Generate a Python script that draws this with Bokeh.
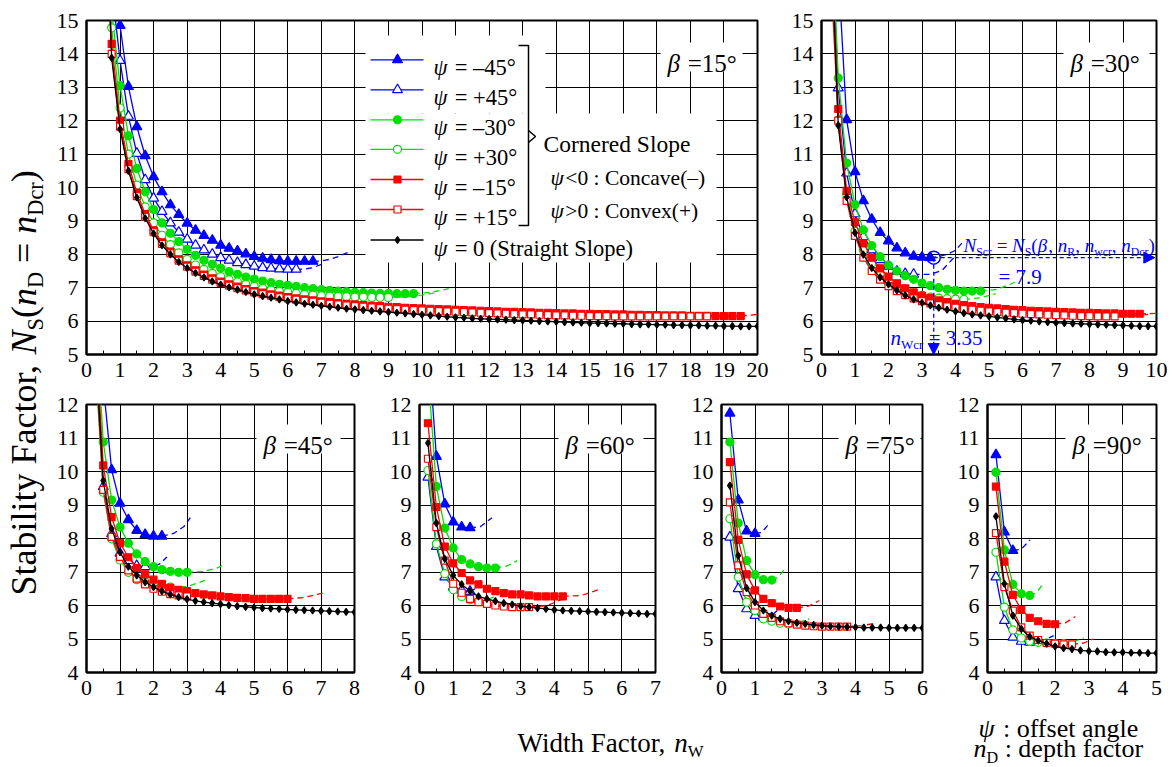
import math
from bokeh.plotting import figure
from bokeh.models import Range1d, Label, BoxAnnotation, Arrow, NormalHead, FixedTicker
from bokeh.layouts import row, column
from bokeh.embed import file_html
from bokeh.resources import INLINE

STEP = 0.25  # spacing of the computed points along n_W

# ---------------- data : (first n_W, N_S values every 0.25) ; dashed extensions (x, y)
# beta = 15
b15_n45 = (0.75, [17.5, 14.85, 13.02, 11.82, 10.95, 10.32, 9.87, 9.48, 9.19, 8.93, 8.72, 8.56, 8.42,
                  8.27, 8.18, 8.10, 8.01, 7.93, 7.88, 7.84, 7.81, 7.79, 7.79, 7.79, 7.79])
b15_n45_d = ([6.75, 7.0, 7.25, 7.5, 7.8], [7.79, 7.80, 7.85, 7.93, 8.06])
b15_p45 = (0.75, [16.0, 13.8, 12.13, 11.02, 10.23, 9.68, 9.28, 8.94, 8.66, 8.45, 8.27, 8.13, 8.00,
                  7.90, 7.82, 7.75, 7.69, 7.64, 7.60, 7.58, 7.56, 7.55, 7.55])
b15_p45_d = ([6.25, 6.5, 6.75, 7.05], [7.55, 7.56, 7.60, 7.72])
b15_n30 = (0.75, [15.3, 13.05, 11.55, 10.57, 9.87, 9.34, 8.94, 8.63, 8.38, 8.15, 7.97, 7.82, 7.70,
                  7.59, 7.48, 7.40, 7.32, 7.26, 7.20, 7.15, 7.10, 7.07, 7.04, 7.00, 6.97, 6.94,
                  6.92, 6.90, 6.88, 6.86, 6.85, 6.84, 6.83, 6.83, 6.82, 6.82, 6.82])
b15_n30_d = ([9.75, 10.25, 10.8], [6.82, 6.86, 6.97])
b15_p30 = (0.5, [20.0, 14.78, 12.38, 11.0, 10.07, 9.42, 8.94, 8.57, 8.29, 8.04, 7.85, 7.68, 7.55,
                 7.43, 7.33, 7.24, 7.17, 7.10, 7.04, 6.98, 6.93, 6.89, 6.86, 6.83, 6.80, 6.78,
                 6.76, 6.75, 6.74, 6.73, 6.72, 6.72, 6.71, 6.71, 6.71])
b15_p30_d = ([9.0, 9.5, 10.0, 10.35], [6.71, 6.73, 6.78, 6.84])
b15_n15 = (0.5, [20.0, 14.3, 12.0, 10.7, 9.85, 9.2, 8.72, 8.36, 8.08, 7.85, 7.67, 7.52, 7.39, 7.28,
                 7.18, 7.10, 7.03, 6.96, 6.90, 6.85, 6.80, 6.76, 6.72, 6.68, 6.65, 6.62, 6.59,
                 6.57, 6.54, 6.52, 6.50, 6.48, 6.46, 6.45, 6.43, 6.42, 6.40, 6.39, 6.38, 6.37,
                 6.36, 6.35, 6.34, 6.33, 6.32, 6.31, 6.30, 6.29, 6.28, 6.28, 6.27, 6.26, 6.25,
                 6.25, 6.24, 6.23, 6.23, 6.22, 6.22, 6.21, 6.21, 6.20, 6.20, 6.19, 6.19, 6.18,
                 6.18, 6.17, 6.17, 6.17, 6.16, 6.16, 6.16, 6.15, 6.15, 6.15, 6.15])
b15_n15_d = ([19.5, 20.0, 20.3], [6.15, 6.20, 6.25])
b15_p15 = (0.5, [20.0, 14.0, 11.82, 10.55, 9.74, 9.12, 8.66, 8.31, 8.03, 7.81, 7.63, 7.48, 7.35,
                 7.24, 7.14, 7.06, 6.99, 6.92, 6.86, 6.81, 6.76, 6.72, 6.68, 6.64, 6.61, 6.58,
                 6.55, 6.52, 6.50, 6.47, 6.45, 6.43, 6.41, 6.39, 6.37, 6.36, 6.34, 6.33, 6.32,
                 6.31, 6.30, 6.29, 6.28, 6.27, 6.26, 6.25, 6.24, 6.23, 6.22, 6.21, 6.20, 6.20,
                 6.19, 6.18, 6.17, 6.17, 6.16, 6.16, 6.15, 6.15, 6.15, 6.14, 6.14, 6.14, 6.14,
                 6.14, 6.14, 6.14, 6.14, 6.14, 6.14, 6.14, 6.14])
b15_p15_d = ([18.5, 19.0, 19.5], [6.14, 6.15, 6.17])
b15_zero = (0.5, [20.0, 13.88, 11.75, 10.50, 9.70, 9.08, 8.62, 8.27, 8.00, 7.77, 7.59, 7.44, 7.31,
                  7.19, 7.09, 7.01, 6.94, 6.87, 6.80, 6.75, 6.70, 6.65, 6.60, 6.56, 6.52, 6.49,
                  6.46, 6.43, 6.40, 6.37, 6.35, 6.33, 6.31, 6.29, 6.27, 6.25, 6.23, 6.21, 6.19,
                  6.17, 6.15, 6.13, 6.11, 6.10, 6.08, 6.07, 6.06, 6.05, 6.04, 6.03, 6.02, 6.01,
                  6.00, 5.99, 5.98, 5.97, 5.96, 5.95, 5.94, 5.94, 5.93, 5.92, 5.92, 5.91, 5.90,
                  5.90, 5.89, 5.89, 5.88, 5.88, 5.87, 5.87, 5.86, 5.86, 5.85, 5.85, 5.84, 5.84,
                  5.84])

# beta = 30
b30_n45 = (0.5, [16.5, 12.03, 10.47, 9.60, 9.05, 8.65, 8.40, 8.19, 8.04, 7.94, 7.91, 7.90])
b30_n45_d = ([3.25, 3.5, 3.75, 4.0, 4.25], [7.90, 7.93, 8.00, 8.12, 8.40])
b30_p45 = (0.25, [19.0, 12.98, 10.43, 9.21, 8.53, 8.13, 7.84, 7.64, 7.49, 7.42, 7.40])
b30_p45_d = ([2.75, 3.25, 3.6, 3.95], [7.40, 7.40, 7.52, 7.90])
b30_n30 = (0.25, [19.0, 13.28, 10.73, 9.49, 8.73, 8.26, 7.93, 7.68, 7.50, 7.36, 7.25, 7.14, 7.06,
                  7.00, 6.95, 6.92, 6.90, 6.90, 6.90])
b30_n30_d = ([4.75, 5.25, 5.8], [6.90, 6.95, 7.17])
b30_p30 = (0.25, [18.0, 12.02, 9.79, 8.69, 8.13, 7.72, 7.38, 7.15, 7.02, 6.92, 6.84, 6.77, 6.72,
                  6.69, 6.67, 6.66, 6.65])
b30_p30_d = ([4.25, 4.75, 5.2], [6.65, 6.70, 6.82])
b30_n15 = (0.25, [18.0, 12.35, 9.90, 8.96, 8.33, 7.90, 7.58, 7.33, 7.13, 6.98, 6.86, 6.76, 6.69,
                  6.62, 6.57, 6.52, 6.48, 6.45, 6.42, 6.40, 6.38, 6.36, 6.34, 6.33, 6.31, 6.30,
                  6.29, 6.28, 6.27, 6.26, 6.25, 6.25, 6.24, 6.23, 6.23, 6.22, 6.22, 6.22])
b30_n15_d = ([9.5, 9.75, 10.1], [6.22, 6.22, 6.24])
b30_p15 = (0.25, [17.0, 12.0, 9.60, 8.55, 7.90, 7.50, 7.24, 7.05, 6.90, 6.78, 6.68, 6.60, 6.53,
                  6.48, 6.44, 6.40, 6.36, 6.34, 6.31, 6.29, 6.27, 6.25, 6.24, 6.22, 6.21, 6.20,
                  6.19, 6.18, 6.17, 6.16, 6.15, 6.15, 6.14, 6.14, 6.14])
b30_p15_d = ([8.75, 9.25, 9.75], [6.14, 6.15, 6.20])
b30_zero = (0.25, [18.5, 11.86, 9.71, 8.64, 7.99, 7.59, 7.31, 7.10, 6.92, 6.77, 6.65, 6.55, 6.47,
                   6.40, 6.34, 6.29, 6.24, 6.20, 6.17, 6.14, 6.11, 6.08, 6.05, 6.03, 6.01, 5.99,
                   5.97, 5.95, 5.94, 5.93, 5.92, 5.91, 5.90, 5.89, 5.88, 5.87, 5.86, 5.85, 5.85,
                   5.84])
b30_crit_nw = 3.35
b30_crit_ns = 7.9

# beta = 45
b45_n45 = (0.5, [12.6, 10.05, 9.05, 8.56, 8.24, 8.12, 8.07, 8.07])
b45_n45_d = ([2.25, 2.6, 2.9, 3.1], [8.07, 8.15, 8.35, 8.62])
b45_p45 = (0.25, [14.0, 9.55, 8.14, 7.56, 7.34, 7.19, 7.16])
b45_p45_d = ([1.75, 2.0, 2.2, 2.4], [7.16, 7.15, 7.25, 7.45])
b45_n30 = (0.25, [15.0, 10.88, 9.15, 8.34, 7.86, 7.54, 7.31, 7.16, 7.07, 7.02, 6.99, 6.99])
b45_n30_d = ([3.0, 3.5, 3.9, 4.15], [6.99, 7.02, 7.12, 7.24])
b45_p30 = (0.25, [13.5, 9.38, 7.99, 7.36, 6.99, 6.77, 6.70, 6.63, 6.57, 6.55])
b45_p30_d = ([2.5, 3.0, 3.55], [6.55, 6.56, 6.75])
b45_n15 = (0.25, [14.5, 10.18, 8.64, 7.86, 7.44, 7.12, 6.93, 6.77, 6.65, 6.53, 6.47, 6.43, 6.37,
                  6.33, 6.30, 6.27, 6.25, 6.23, 6.22, 6.20, 6.20, 6.20, 6.20, 6.20])
b45_n15_d = ([6.0, 6.5, 7.05], [6.20, 6.24, 6.37])
b45_p15 = (0.25, [13.8, 9.45, 8.05, 7.45, 7.05, 6.80, 6.63, 6.50, 6.41, 6.34, 6.30, 6.27])
b45_p15_d = ([3.0, 3.5, 3.9], [6.27, 6.30, 6.40])
b45_zero = (0.25, [14.0, 9.73, 8.29, 7.59, 7.16, 6.90, 6.70, 6.55, 6.43, 6.33, 6.25, 6.19, 6.14,
                   6.10, 6.07, 6.04, 6.01, 5.98, 5.96, 5.94, 5.92, 5.91, 5.90, 5.88, 5.87, 5.86,
                   5.85, 5.84, 5.83, 5.82, 5.81, 5.80])

# beta = 60
b60_n45 = (0.25, [14.0, 10.45, 9.03, 8.49, 8.34, 8.32])
b60_n45_d = ([1.5, 1.8, 2.15], [8.32, 8.35, 8.62])
b60_p45 = (0.25, [9.83, 7.76, 6.85, 6.55, 6.46, 6.42])
b60_p45_d = ([1.5, 1.65, 1.85], [6.42, 6.50, 6.80])
b60_n30 = (0.25, [13.0, 9.55, 8.31, 7.72, 7.37, 7.24, 7.16, 7.12, 7.12])
b60_n30_d = ([2.25, 2.6, 2.9], [7.12, 7.18, 7.34])
b60_p30 = (0.25, [10.03, 7.84, 6.95, 6.47, 6.27, 6.17, 6.13])
b60_p30_d = ([1.75, 2.0, 2.3, 2.55], [6.13, 6.17, 6.30, 6.50])
b60_n15 = (0.25, [11.44, 8.94, 7.76, 7.26, 6.97, 6.75, 6.63, 6.50, 6.43, 6.37, 6.33, 6.33, 6.30,
                  6.27, 6.27, 6.27, 6.27])
b60_n15_d = ([4.25, 4.8, 5.3], [6.27, 6.30, 6.47])
b60_p15 = (0.25, [10.38, 8.34, 7.34, 6.65, 6.38, 6.20, 6.10, 6.05, 6.00, 5.97, 5.95, 5.95, 5.95])
b60_p15_d = ([3.25, 3.8, 4.25], [5.95, 6.00, 6.20])
b60_zero = (0.25, [10.85, 8.46, 7.39, 6.90, 6.63, 6.43, 6.27, 6.20, 6.13, 6.07, 6.03, 5.98, 5.95,
                   5.92, 5.90, 5.87, 5.85, 5.84, 5.83, 5.82, 5.81, 5.80, 5.79, 5.78, 5.77, 5.76,
                   5.75, 5.75])

# beta = 75
b75_n45 = (0.25, [11.74, 9.15, 8.22, 8.15])
b75_n45_d = ([1.0, 1.2, 1.42], [8.15, 8.18, 8.44])
b75_p45 = (0.25, [8.04, 6.50, 5.90, 5.70, 5.65])
b75_p45_d = ([1.25, 1.5, 1.82], [5.65, 5.70, 6.00])
b75_n30 = (0.25, [10.88, 8.46, 7.34, 6.92, 6.77, 6.76])
b75_n30_d = ([1.5, 1.7, 1.92], [6.76, 6.85, 7.14])
b75_p30 = (0.25, [8.59, 6.85, 6.10, 5.85, 5.60, 5.53, 5.47, 5.45])
b75_p30_d = ([2.0, 2.3, 2.62], [5.45, 5.50, 5.60])
b75_n15 = (0.25, [10.28, 7.96, 6.93, 6.45, 6.20, 6.07, 5.97, 5.93, 5.93])
b75_n15_d = ([2.25, 2.6, 2.92], [5.93, 5.98, 6.15])
b75_p15 = (0.25, [9.08, 7.20, 6.40, 6.00, 5.75, 5.63, 5.53, 5.47, 5.43, 5.40, 5.38, 5.37, 5.37,
                  5.37, 5.37])
b75_p15_d = ([3.75, 4.2, 4.6], [5.37, 5.40, 5.47])
b75_zero = (0.25, [9.58, 7.49, 6.52, 6.10, 5.85, 5.70, 5.60, 5.53, 5.48, 5.45, 5.42, 5.40, 5.38,
                   5.37, 5.36, 5.35, 5.34, 5.34, 5.34, 5.33, 5.33, 5.33, 5.33, 5.33])

# beta = 90
b90_n45 = (0.25, [10.5, 8.19, 7.64])
b90_n45_d = ([0.75, 1.0, 1.26], [7.64, 7.68, 7.96])
b90_p45 = (0.25, [6.85, 5.55, 5.05, 4.93, 4.90])
b90_p45_d = ([1.25, 1.6, 1.96], [4.90, 4.93, 5.10])
b90_n30 = (0.25, [9.98, 7.66, 6.63, 6.35, 6.30])
b90_n30_d = ([1.25, 1.45, 1.66], [6.30, 6.38, 6.67])
b90_p30 = (0.25, [7.59, 5.95, 5.27, 5.03, 4.93, 4.90, 4.88, 4.86, 4.86])
b90_p30_d = ([2.25, 2.55, 2.85], [4.86, 4.92, 5.03])
b90_n15 = (0.25, [9.55, 7.31, 6.32, 5.87, 5.63, 5.53, 5.45, 5.44])
b90_n15_d = ([2.0, 2.3, 2.6], [5.44, 5.48, 5.67])
b90_p15 = (0.25, [8.16, 6.55, 5.85, 5.35, 5.10, 4.97, 4.88, 4.86, 4.84, 4.84])
b90_p15_d = ([2.5, 2.85, 3.14], [4.84, 4.88, 5.00])
b90_zero = (0.25, [8.66, 6.65, 5.70, 5.30, 5.07, 4.95, 4.86, 4.78, 4.73, 4.70, 4.66, 4.64, 4.63,
                   4.61, 4.60, 4.60, 4.59, 4.59, 4.58, 4.58])

BETAS = [15, 30, 45, 60, 75, 90]
KEYS = ["n45", "p45", "n30", "p30", "n15", "p15", "zero"]
LEGEND_TEXT = ["= –45°", "= +45°", "= –30°", "= +30°", "= –15°", "= +15°", "= 0 (Straight Slope)"]

SERIES = {
    15: [b15_n45, b15_p45, b15_n30, b15_p30, b15_n15, b15_p15, b15_zero],
    30: [b30_n45, b30_p45, b30_n30, b30_p30, b30_n15, b30_p15, b30_zero],
    45: [b45_n45, b45_p45, b45_n30, b45_p30, b45_n15, b45_p15, b45_zero],
    60: [b60_n45, b60_p45, b60_n30, b60_p30, b60_n15, b60_p15, b60_zero],
    75: [b75_n45, b75_p45, b75_n30, b75_p30, b75_n15, b75_p15, b75_zero],
    90: [b90_n45, b90_p45, b90_n30, b90_p30, b90_n15, b90_p15, b90_zero],
}
DASHES = {
    15: [b15_n45_d, b15_p45_d, b15_n30_d, b15_p30_d, b15_n15_d, b15_p15_d, None],
    30: [b30_n45_d, b30_p45_d, b30_n30_d, b30_p30_d, b30_n15_d, b30_p15_d, None],
    45: [b45_n45_d, b45_p45_d, b45_n30_d, b45_p30_d, b45_n15_d, b45_p15_d, None],
    60: [b60_n45_d, b60_p45_d, b60_n30_d, b60_p30_d, b60_n15_d, b60_p15_d, None],
    75: [b75_n45_d, b75_p45_d, b75_n30_d, b75_p30_d, b75_n15_d, b75_p15_d, None],
    90: [b90_n45_d, b90_p45_d, b90_n30_d, b90_p30_d, b90_n15_d, b90_p15_d, None],
}

# ---------------- styles & layout (page pixel geometry)
FONT = "Liberation Serif"
BLUE, GREEN, RED, BLACK = "#0000FF", "#00E000", "#FF0000", "#000000"
STY = {
    "n45": (BLUE, "triangle", BLUE, 10),
    "p45": (BLUE, "triangle", "white", 10),
    "n30": (GREEN, "circle", GREEN, 8),
    "p30": (GREEN, "circle", "white", 8),
    "n15": (RED, "square", RED, 7),
    "p15": (RED, "square", "white", 7),
    "zero": (BLACK, "diamond", BLACK, 7),
}
LEFT_W = 50
SPECS = {
    15: dict(left=86, top=20, fw=671, fh=334, xr=(0, 20), yr=(5, 15), mb=(36, 20, 22, 38), bl=(667, 63), bb=(660, 742, 42, 71)),
    30: dict(left=821, top=20, fw=335, fh=334, xr=(0, 10), yr=(5, 15), mb=(42, 20, 18, 38), bl=(1070, 63), bb=(1063, 1149, 42, 71)),
    45: dict(left=86, top=404, fw=268, fh=268, xr=(0, 8), yr=(4, 12), mb=(36, 12, 16, 38), bl=(263, 445), bb=(256, 340, 424, 453)),
    60: dict(left=419, top=404, fw=236, fh=268, xr=(0, 7), yr=(4, 12), mb=(49, 12, 25, 38), bl=(565, 445), bb=(558, 643, 424, 453)),
    75: dict(left=721, top=404, fw=201, fh=268, xr=(0, 6), yr=(4, 12), mb=(41, 12, 28, 38), bl=(845, 445), bb=(838, 920, 424, 453)),
    90: dict(left=987, top=404, fw=169, fh=268, xr=(0, 5), yr=(4, 12), mb=(37, 12, 18, 38), bl=(1072, 445), bb=(1065, 1150, 424, 453)),
}

WN = {' ': .25, '(': .333, ')': .333, ',': .25, '.': .25, ':': .278, '=': .564, '+': .564,
      '<': .564, '>': .564, '–': .5, '−': .564, '°': .4,
      'C': .667, 'D': .722, 'F': .556, 'N': .722, 'R': .667, 'S': .556, 'W': .944,
      'a': .444, 'b': .5, 'c': .444, 'd': .5, 'e': .444, 'f': .333, 'g': .5, 'h': .5,
      'i': .278, 'l': .278, 'n': .5, 'o': .5, 'p': .5, 'r': .333, 's': .389, 't': .278,
      'v': .5, 'w': .722, 'x': .5, 'y': .5, 'ψ': .69, 'β': .55}
WI = {'N': .667, 'n': .5, 'ψ': .69, 'β': .56}


def tw(s, kind, size):
    tbl = WI if 'i' in kind else WN
    return sum(tbl.get(c, WN.get(c, .5)) for c in s) * size


def runs(fig, fx, fy, parts, px, py, size, color=BLACK, rot=False):
    cur = 0.0
    for text, kind in parts:
        sub = kind.startswith('s')
        sz = size * 0.62 if sub else size
        drop = size * 0.34 if sub else 0.0
        lead = len(text) - len(text.lstrip(' '))
        cur += lead * WN[' '] * sz
        t = text.strip(' ')
        if rot:
            X, Y, ang = px + drop, py - cur, math.pi / 2
        else:
            X, Y, ang = px + cur, py + drop, 0.0
        fig.add_layout(Label(x=fx(X), y=fy(Y), text=t, angle=ang, text_font=FONT,
                             text_font_size=f"{sz:.1f}px",
                             text_font_style="italic" if 'i' in kind else "normal",
                             text_color=color, text_align="left", text_baseline="alphabetic"))
        cur += tw(text.lstrip(' '), kind, sz)


def mapper(s):
    L, T, FW, FH = s["left"], s["top"], s["fw"], s["fh"]
    (x0, x1), (y0, y1) = s["xr"], s["yr"]
    return (lambda px: x0 + (px - L) / FW * (x1 - x0)), (lambda py: y1 - (py - T) / FH * (y1 - y0))


def make_panel(beta):
    s = SPECS[beta]
    mbl, mbt, mbr, mbb = s["mb"]
    p = figure(frame_width=s["fw"], frame_height=s["fh"], x_range=Range1d(*s["xr"]),
               y_range=Range1d(*s["yr"]), min_border_left=mbl, min_border_top=mbt,
               min_border_right=mbr, min_border_bottom=mbb, output_backend="svg",
               toolbar_location=None, tools="", title=None)
    x0, x1 = s["xr"]
    y0, y1 = s["yr"]
    p.xaxis.ticker = FixedTicker(ticks=list(range(x0, x1 + 1)),
                                 minor_ticks=[i + 0.5 for i in range(x0, x1)])
    p.yaxis.ticker = FixedTicker(ticks=list(range(y0, y1 + 1)))
    for ax in (p.xaxis, p.yaxis):
        ax.axis_line_color = BLACK
        ax.axis_line_width = 2
        ax.major_tick_in = 0
        ax.major_tick_out = 0
        ax.major_label_text_font = FONT
        ax.major_label_text_font_size = "22px"
        ax.major_label_text_color = BLACK
    p.xaxis.major_label_standoff = 8
    p.yaxis.major_label_standoff = 8
    p.xaxis.minor_tick_in = 4
    p.xaxis.minor_tick_out = 0
    p.xaxis.minor_tick_line_color = BLACK
    p.xaxis.minor_tick_line_width = 1
    p.yaxis.minor_tick_line_color = None
    p.grid.grid_line_color = BLACK
    p.grid.grid_line_width = 1
    p.grid.grid_line_alpha = 1
    p.outline_line_color = BLACK
    p.outline_line_width = 2
    p.outline_line_alpha = 1
    p.background_fill_color = "white"
    p.border_fill_color = "white"

    fx, fy = mapper(s)
    bx0, bx1, by0, by1 = s["bb"]
    p.add_layout(BoxAnnotation(left=fx(bx0), right=fx(bx1), top=fy(by0), bottom=fy(by1),
                               fill_color="white", fill_alpha=1, line_alpha=0, level="underlay"))
    runs(p, fx, fy, [("β", "i"), (f" ={beta}°", "n")], s["bl"][0], s["bl"][1], 25)

    for key, ser, dash in zip(KEYS, SERIES[beta], DASHES[beta]):
        col, mk, fill, sz = STY[key]
        xstart, vals = ser
        xs = [xstart + STEP * i for i in range(len(vals))]
        p.line(xs, vals, line_color=col, line_width=1.3)
        if dash is not None:
            p.line(dash[0], dash[1], line_color=col, line_width=1.3, line_dash="6 4")
        p.scatter(xs, vals, marker=mk, size=sz, line_color=col, fill_color=fill, line_width=1.2)
    return p, fx, fy


panels = {}
for b in BETAS:
    panels[b] = make_panel(b)

# ---------- legend in the beta = 15 panel
p15, fx15, fy15 = panels[15]
for (a, bq, c, d) in [(365, 545, 35, 113), (365, 716, 113, 262)]:
    p15.add_layout(BoxAnnotation(left=fx15(a), right=fx15(bq), top=fy15(c), bottom=fy15(d),
                                 fill_color="white", fill_alpha=1, line_alpha=0, level="underlay"))
LEG_ROWS = [59.3, 89.3, 119.3, 148.8, 179.0, 209.0, 239.5]
for key, txt, ry in zip(KEYS, LEGEND_TEXT, LEG_ROWS):
    col, mk, fill, sz = STY[key]
    p15.line([fx15(370), fx15(423)], [fy15(ry), fy15(ry)], line_color=col, line_width=1.3)
    p15.scatter([fx15(397)], [fy15(ry)], marker=mk, size=sz, line_color=col, fill_color=fill,
                line_width=1.2)
    runs(p15, fx15, fy15, [("ψ", "i"), (" " + txt, "n")], 433, ry + 8, 22.5)
p15.line([fx15(518), fx15(528), fx15(528), fx15(518)],
         [fy15(45), fy15(45), fy15(225), fy15(225)], line_color=BLACK, line_width=1.5)
p15.line([fx15(528), fx15(535), fx15(528)], [fy15(130), fy15(136), fy15(142)],
         line_color=BLACK, line_width=1.5)
runs(p15, fx15, fy15, [("Cornered Slope", "n")], 543, 143.5, 23.5)
runs(p15, fx15, fy15, [("ψ", "i"), ("<0 : Concave(–)", "n")], 550, 177, 21.5)
runs(p15, fx15, fy15, [("ψ", "i"), (">0 : Convex(+)", "n")], 550, 210, 21.5)

# ---------- critical point annotation in the beta = 30 panel
p30, fx30, fy30 = panels[30]
p30.add_layout(Arrow(end=NormalHead(size=11, fill_color=BLUE, line_color=BLUE, line_width=1),
                     x_start=b30_crit_nw, y_start=b30_crit_ns, x_end=9.95, y_end=b30_crit_ns,
                     line_color=BLUE, line_width=1.3, line_dash="4 3"))
p30.add_layout(Arrow(end=NormalHead(size=11, fill_color=BLUE, line_color=BLUE, line_width=1),
                     x_start=b30_crit_nw, y_start=b30_crit_ns, x_end=b30_crit_nw, y_end=5.0,
                     line_color=BLUE, line_width=1.3, line_dash="4 3"))
p30.scatter([b30_crit_nw], [b30_crit_ns], marker="circle", size=13, line_color=BLUE,
            fill_alpha=0, line_width=1.5)
runs(p30, fx30, fy30,
     [("N", "i"), ("Scr", "s"), (" = ", "n"), ("N", "i"), ("S", "s"), ("(", "n"), ("β", "i"),
      (", ", "n"), ("n", "i"), ("R", "s"), (", ", "n"), ("n", "i"), ("wcr", "s"), (", ", "n"),
      ("n", "i"), ("Dcr", "s"), (")", "n")], 963, 245, 19, color=BLUE)
runs(p30, fx30, fy30, [("= 7.9", "n")], 998, 276, 21, color=BLUE)
runs(p30, fx30, fy30, [("n", "i"), ("Wcr", "s"), (" = 3.35", "n")], 890, 337, 21, color=BLUE)


# ---------- strips for the shared axis titles (ranges = page pixels)
def strip(x0, y0, w, h):
    f = figure(frame_width=w, frame_height=h, x_range=Range1d(x0, x0 + w),
               y_range=Range1d(y0 + h, y0), min_border_left=0, min_border_right=0,
               min_border_top=0, min_border_bottom=0, x_axis_type=None, y_axis_type=None,
               output_backend="svg", toolbar_location=None, tools="", title=None)
    f.outline_line_color = None
    f.background_fill_color = "white"
    f.border_fill_color = "white"
    return f


ident = (lambda v: v)
TOTAL_H = 766
left_strip = strip(0, 0, LEFT_W, TOTAL_H)
runs(left_strip, ident, ident,
     [("Stability Factor, ", "n"), ("N", "i"), ("S", "s"), ("(", "n"), ("n", "i"), ("D", "s"),
      (" = ", "n"), ("n", "i"), ("Dcr", "s"), (")", "n")], 23, 595, 36, rot=True)

bottom_strip = strip(LEFT_W, 710, 1174 - LEFT_W, TOTAL_H - 710)
runs(bottom_strip, ident, ident, [("Width Factor, ", "n"), ("n", "i"), ("W", "s")], 517, 742, 27)
runs(bottom_strip, ident, ident, [("ψ", "i"), (" : offset angle", "n")], 978, 728, 26)
runs(bottom_strip, ident, ident, [("n", "i"), ("D", "s"), (" : depth factor", "n")], 973, 748, 26)

layout = row(left_strip,
             column(row(panels[15][0], panels[30][0]),
                    row(panels[45][0], panels[60][0], panels[75][0], panels[90][0]),
                    bottom_strip))

open("out.html", "w").write(file_html(layout, INLINE))
